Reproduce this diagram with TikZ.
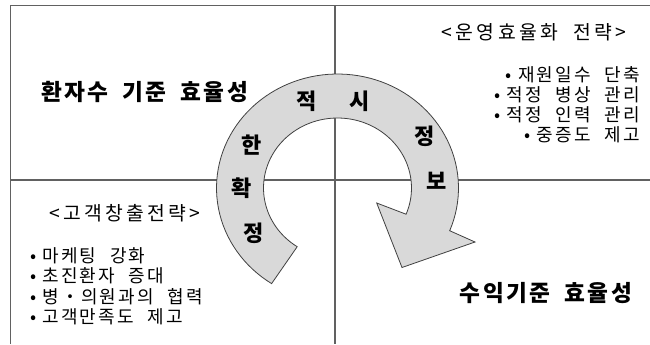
\documentclass[tikz,border=0pt]{standalone}
\usepackage{fontspec}
\newfontfamily\krh{Noto Sans CJK KR}[LetterSpace=11,WordSpace=1.8]
\newfontfamily\krb{Noto Sans CJK KR}[LetterSpace=12,WordSpace=2.2]
\newfontfamily\krt{Noto Sans CJK KR}[LetterSpace=17,WordSpace=2]
\newcommand{\bul}{•\kern4.5pt}
\begin{document}
\begin{tikzpicture}[x=0.75pt,y=-0.75pt,
  frame/.style={draw=black!62, line width=0.9pt},
  arrowshape/.style={fill=black!15, draw=black!75, line width=0.6pt},
  head/.style={font=\krh\bfseries\fontsize{17pt}{20pt}\selectfont, inner sep=0pt},
  body/.style={font=\krb\fontsize{13.5pt}{16pt}\selectfont, inner sep=0pt},
  ttl/.style={font=\krt\fontsize{14.5pt}{17pt}\selectfont, inner sep=0pt},
  arcl/.style={font=\krh\bfseries\fontsize{16.5pt}{19pt}\selectfont, inner sep=0pt}]
\useasboundingbox (0,0) rectangle (650,344);
\draw[frame] (10.5,344) -- (10.5,5.5) -- (650,5.5);
\draw[frame] (335,5.5) -- (335,344);
\draw[frame] (10.5,180) -- (650,180);
\filldraw[arrowshape] plot[domain=237:-22,samples=90,variable=\t] ({337.5+121*cos(\t)},{188-114*sin(\t)})
  -- (475,242) -- (402,267.5) -- (376.7,203)
  -- plot[domain=-22:237,samples=90,variable=\t] ({337.5+74*cos(\t)},{188-70*sin(\t)}) -- cycle;
% arc letters
\node[arcl] (a1) at (306.7,101.7) {적};
\node[arcl] (a2) at (360,101.7) {시};
\node[arcl] (a3) at (425,136.7) {정};
\node[arcl] (a4) at (436.7,181) {보};
\node[arcl] (a5) at (251.7,145) {한};
\node[arcl] (a6) at (241.7,188.3) {확};
\node[arcl] (a7) at (253.3,233.3) {정};
% headings
\node[head] (h1) at (144.5,92) {환자수 기준 효율성};
\node[head] (h2) at (546,293.5) {수익기준 효율성};
% right top list
\node[ttl] (t1) at (534,32) {<운영효율화 전략>};
\node[body, anchor=east] (r1) at (640,75) {\bul 재원일수 단축};
\node[body, anchor=east] (r2) at (640,95) {\bul 적정 병상 관리};
\node[body, anchor=east] (r3) at (640,115) {\bul 적정 인력 관리};
\node[body, anchor=east] (r4) at (640,135) {\bul 중증도 제고};
% left bottom list
\node[ttl] (t2) at (125,213.5) {<고객창출전략>};
\node[body, anchor=west] (l1) at (30,255.5) {\bul 마케팅 강화};
\node[body, anchor=west] (l2) at (30,276) {\bul 초진환자 증대};
\node[body, anchor=west] (l3) at (30,296.5) {\bul 병・의원과의 협력};
\node[body, anchor=west] (l4) at (30,317) {\bul 고객만족도 제고};
\end{tikzpicture}
\end{document}
